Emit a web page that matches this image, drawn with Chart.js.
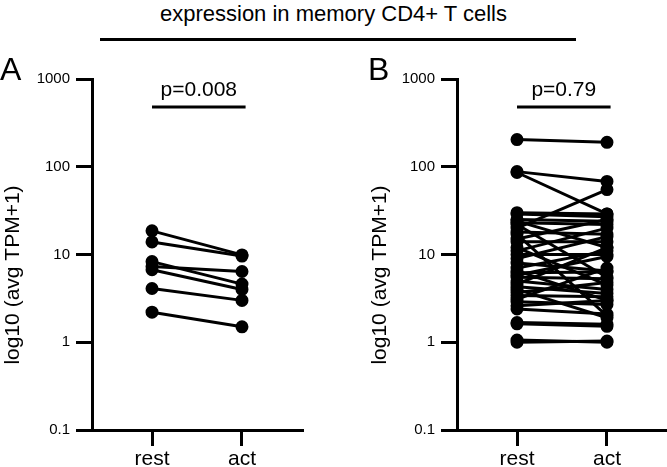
<!DOCTYPE html>
<html>
<head>
<meta charset="utf-8">
<script src="https://cdn.jsdelivr.net/npm/chart.js@4"></script>
<style>
  body { margin: 0; background: #fff; }
  #wrap { position: relative; width: 667px; height: 467px; overflow: hidden; }
  #title { position: absolute; left: 0; top: 1px; width: 667px; text-align: center;
           font: 22px "Liberation Sans", Arial, sans-serif; color: #000; }
  #rule { position: absolute; left: 100px; top: 38px; width: 476px; height: 3px; background: #000; }
  canvas { position: absolute; top: 0; }
  #panelA { left: 0; }
  #panelB { left: 333px; }
</style>
</head>
<body>
<div id="wrap">
  <div id="title">expression in memory CD4+ T cells</div>
  <div id="rule"></div>
  <canvas id="panelA" width="333" height="467"></canvas>
  <canvas id="panelB" width="334" height="467"></canvas>
</div>
<script>
const FONT = '"Liberation Sans", Arial, sans-serif';

const categories = ['rest', 'act'];
const yTicks = [0.1, 1, 10, 100, 1000];
const yTitle = 'log10 (avg TPM+1)';

// panel A - paired values (rest -> act)
const restA = [18.6, 13.9, 8.3, 7.3, 6.7, 4.1, 2.2];
const actA  = [9.9, 9.6, 4.6, 6.4, 4.0, 3.0, 1.5];
const pA = 'p=0.008';

// panel B - paired values (rest -> act)
const restB = [204, 88, 86, 30, 29, 25, 24, 23, 22, 20, 18, 17, 15, 14, 12, 11, 10, 9, 8, 7,
               6.5, 6.2, 5.8, 5.5, 5, 4.6, 4.3, 4, 3.7, 3.4, 3.1, 2.9, 2.6, 2.4, 1.68, 1.62, 1.06, 1.0];
const actB  = [190, 68, 29, 29, 27, 24, 12, 22, 5.5, 55, 17, 2.0, 25, 14, 4.5, 20, 10, 16, 6.5, 11,
               3.0, 6.3, 9.5, 5.3, 4.0, 12, 3.6, 1.9, 4.8, 3.3, 7, 2.7, 3.0, 2.1, 1.6, 1.52, 1.0, 1.03];
const pB = 'p=0.79';

Chart.defaults.font.family = FONT;
Chart.defaults.color = '#000';

const annotations = {
    id: 'annotations',
    afterDraw(chart, args, o) {
        const ctx = chart.ctx;
        const x = chart.scales.x;
        ctx.save();
        ctx.fillStyle = '#000';
        ctx.strokeStyle = '#000';

        // panel letter
        ctx.font = '32px ' + FONT;
        ctx.textAlign = 'left';
        ctx.textBaseline = 'alphabetic';
        ctx.fillText(o.letter, o.letterX, 80);

        // significance bracket
        const x0 = x.getPixelForValue(0);
        const x1 = x.getPixelForValue(1.04);
        ctx.lineWidth = 3;
        ctx.beginPath();
        ctx.moveTo(x0, 107);
        ctx.lineTo(x1, 107);
        ctx.stroke();
        ctx.font = '21px ' + FONT;
        ctx.textAlign = 'center';
        ctx.fillText(o.p, (x0 + x1) / 2, 96);

        // y axis title
        ctx.translate(o.titleX, 275);
        ctx.rotate(-Math.PI / 2);
        ctx.textBaseline = 'middle';
        ctx.fillText(yTitle, 0, 0);
        ctx.restore();
    }
};

function pairedChart(id, rest, act, opts) {
    const datasets = rest.map((r, i) => ({
        data: [{ x: 0, y: r }, { x: 1, y: act[i] }],
        showLine: true,
        borderColor: '#000',
        backgroundColor: '#000',
        borderWidth: 3,
        pointRadius: 5,
        pointHoverRadius: 5,
        clip: false
    }));

    const axisGrid = {
        drawOnChartArea: false,
        drawTicks: true,
        tickLength: 16,
        tickWidth: 3,
        tickColor: '#000',
        lineWidth: 3,
        color: '#000'
    };

    return new Chart(document.getElementById(id), {
        type: 'scatter',
        data: { datasets },
        plugins: [annotations],
        options: {
            responsive: false,
            animation: false,
            layout: {
                autoPadding: false,
                padding: { top: 79, right: opts.right, bottom: 0, left: 0 }
            },
            plugins: {
                legend: { display: false },
                tooltip: { enabled: false },
                annotations: opts
            },
            scales: {
                x: {
                    type: 'linear',
                    min: -0.667,
                    max: 1.667,
                    afterFit: s => { s.height = 37; },
                    afterBuildTicks: s => { s.ticks = categories.map((c, i) => ({ value: i })); },
                    ticks: {
                        callback: v => categories[v],
                        font: { size: 21 },
                        padding: 1,
                        maxRotation: 0
                    },
                    grid: axisGrid,
                    border: { color: '#000', width: 3 }
                },
                y: {
                    type: 'logarithmic',
                    min: 0.1,
                    max: 1000,
                    afterFit: s => { s.width = opts.yWidth; },
                    afterBuildTicks: s => { s.ticks = yTicks.map(v => ({ value: v })); },
                    ticks: {
                        callback: v => String(v),
                        font: { size: 15 },
                        padding: 6,
                        autoSkip: false
                    },
                    grid: axisGrid,
                    border: { color: '#000', width: 3 }
                }
            }
        }
    });
}

pairedChart('panelA', restA, actA, { letter: 'A', letterX: 0, titleX: 13, p: pA, yWidth: 92, right: 31 });
pairedChart('panelB', restB, actB, { letter: 'B', letterX: 35, titleX: 47, p: pB, yWidth: 124, right: 0 });
</script>
</body>
</html>
